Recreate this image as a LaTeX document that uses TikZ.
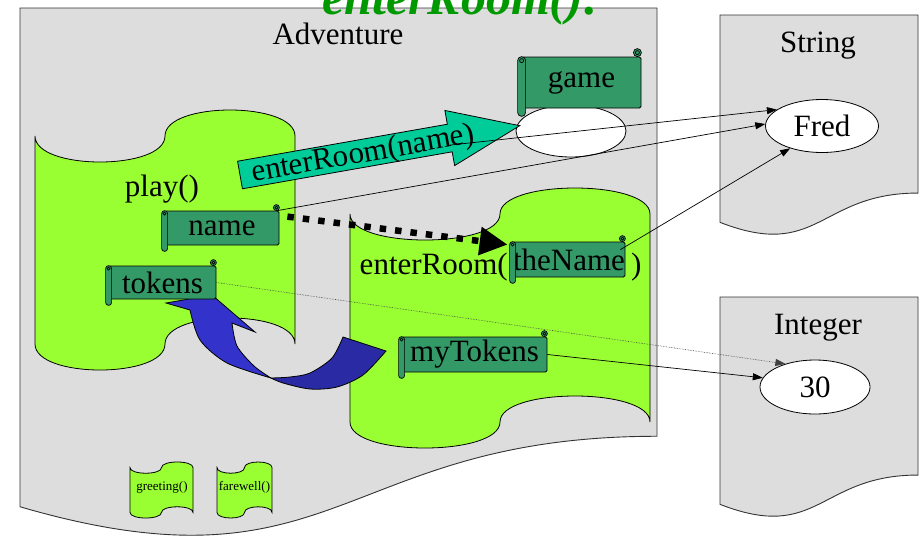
\documentclass[tikz,border=0pt]{standalone}
\usepackage{fontspec}
\setmainfont{Liberation Serif}
\usetikzlibrary{arrows.meta,calc,shapes.geometric}
\definecolor{boxgray}{RGB}{221,221,221}
\definecolor{limegreen}{RGB}{153,255,51}
\definecolor{scrollgreen}{RGB}{51,153,102}
\definecolor{tealarrow}{RGB}{0,204,153}
\definecolor{blueA}{RGB}{51,51,204}
\definecolor{blueB}{RGB}{42,42,165}
\definecolor{titlegreen}{RGB}{0,153,0}
\newcommand\bigf{\fontsize{31}{36}\selectfont}
\newcommand\smallf{\fontsize{13}{15}\selectfont}
% punched-tape shape: x0, y0 (top of crest), width, height
\newcommand\tapeshape[4]{%
  \pgfmathsetmacro\tpA{#1+#3/2}%
  \pgfmathsetmacro\tpB{#1+#3}%
  \pgfmathsetmacro\tpT{#2+#4/10}%
  \pgfmathsetmacro\tpTd{#2+#4/10+4*#4/30}%
  \pgfmathsetmacro\tpTu{#2+#4/10-4*#4/30}%
  \pgfmathsetmacro\tpU{#2+9*#4/10}%
  \pgfmathsetmacro\tpUd{#2+9*#4/10+4*#4/30}%
  \pgfmathsetmacro\tpUu{#2+9*#4/10-4*#4/30}%
  \filldraw[tape] (#1,\tpT) .. controls (#1,\tpTd) and (\tpA,\tpTd) .. (\tpA,\tpT)
     .. controls (\tpA,\tpTu) and (\tpB,\tpTu) .. (\tpB,\tpT) -- (\tpB,\tpU)
     .. controls (\tpB,\tpUu) and (\tpA,\tpUu) .. (\tpA,\tpU)
     .. controls (\tpA,\tpUd) and (#1,\tpUd) .. (#1,\tpU) -- cycle;
}
% document shape: x0, y0, width, height
\newcommand\docshape[4]{%
  \pgfmathsetmacro\dsR{#1+#3}%
  \pgfmathsetmacro\dsM{#1+#3/2}%
  \pgfmathsetmacro\dsA{#2+0.802*#4}%
  \pgfmathsetmacro\dsB{#2+1.1075*#4}%
  \pgfmathsetmacro\dsC{#2+0.934*#4}%
  \filldraw[docbox] (#1,#2) -- (\dsR,#2) -- (\dsR,\dsA)
     .. controls (\dsM,\dsA) and (\dsM,\dsB) .. (#1,\dsC) -- cycle;
}
% scroll decoration on a body node: name, roll width
\newcommand\scrolldeco[2]{%
  \pgfmathsetmacro\scrR{#2/2}%
  \pgfmathsetmacro\scrQ{#2/4}%
  \filldraw[scrollpart, rounded corners=\scrR pt] ($(#1.north west)+(-\scrR,0)$) rectangle ($(#1.south west)+(\scrR,#2)$);
  \draw[scrollpart] ($(#1.north west)+(0,\scrR)$) circle[radius=\scrQ pt];
  \filldraw[scrollpart] ($(#1.north east)+(-\scrR,-\scrR)$) circle[radius=\scrR pt];
  \draw[scrollpart] ($(#1.north east)+(-\scrR,-\scrR)$) circle[radius=\scrQ pt];
}
\tikzset{
  docbox/.style={draw=black!80, fill=boxgray, line width=0.9pt},
  tape/.style={draw=black, fill=limegreen, line width=0.8pt},
  scrollbody/.style={draw=black, fill=scrollgreen, line width=0.8pt, rounded corners=1.5pt,
    inner sep=0pt, font=\bigf},
  scrollpart/.style={draw=black, fill=scrollgreen, line width=0.7pt},
  lbl/.style={font=\bigf, inner sep=0pt},
  obj/.style={ellipse, draw=black, fill=white, line width=0.8pt, inner sep=0pt, font=\bigf},
  conn/.style={draw=black, line width=0.7pt, -{Triangle[length=10pt,width=7pt]}},
  dotconn/.style={draw=black!75, line width=0.6pt, densely dotted, -{Triangle[length=10pt,width=7pt]}},
  thickdash/.style={draw=black, line width=6.5pt, dash pattern=on 6.5pt off 9pt,
    -{Triangle[length=28pt,width=27pt]}},
  bluearrow/.style={draw=black, line width=0.8pt},
}
\begin{document}
\begin{tikzpicture}[x=1pt, y=-1pt]
\useasboundingbox (0,0) rectangle (924,542);
% object boxes
\docshape{20}{8}{637}{534}
\docshape{720}{15}{198}{222}
\docshape{720}{297}{198}{222}
\node[lbl, anchor=base] (advlbl) at (338,44) {Adventure};
\node[lbl, anchor=base] (strlbl) at (818,52) {String};
\node[lbl, anchor=base] (intlbl) at (818,334) {Integer};
% method frames
\tapeshape{35}{110}{260}{260}
\tapeshape{350}{188}{300}{260}
\tapeshape{130}{462}{63}{56}
\tapeshape{217}{462}{55}{56}
\node[font=\smallf, inner sep=0pt] (greet) at (162,487) {greeting()};
\node[font=\smallf, inner sep=0pt] (farew) at (244.5,487) {farewell()};
\node[lbl, anchor=base] (playlbl) at (162,196) {play()};
\node[lbl, anchor=base east] (erlbl) at (508,274) {enterRoom(};
\node[lbl, anchor=base west] (erclose) at (631,274) {)};
% game object reference
\node[obj, minimum width=110pt, minimum height=52pt] (gameobj) at (571,131) {};
\node[scrollbody, minimum width=119pt, minimum height=51pt] (game) at (581.5,82.5) {game};
\scrolldeco{game}{8}
% enterRoom(name) call arrow
\begin{scope}[shift={(240,175)}, rotate=10]
  \filldraw[draw=black, fill=tealarrow, line width=0.8pt]
    (0,-14) -- (213,-14) -- (213,-28) -- (284,0) -- (213,28) -- (213,14) -- (0,14) -- cycle;
  \node[lbl, anchor=base west, rotate=10] (calllbl) at (12,9) {enterRoom(name)};
  \coordinate (argname) at (212,7);
\end{scope}
% blue return arrow
\filldraw[bluearrow, fill=blueA] (166,303) -- (212,295) -- (255,332)
  -- plot[smooth] coordinates {(232,323) (237,346) (254,366) (271,378)}
  -- plot[smooth] coordinates {(271,378) (227,363) (200,340) (190,310)} -- cycle;
\filldraw[bluearrow, fill=blueB]
  plot[smooth] coordinates {(343,337) (332,358) (310,373) (290,377) (271,378)}
  -- plot[smooth] coordinates {(271,378) (283,383) (310,389) (337,387) (363,375) (386,351)} -- cycle;
% variable scrolls
\node[scrollbody, minimum width=114pt, minimum height=34pt] (name) at (222,228) {name};
\scrolldeco{name}{6}
\node[scrollbody, minimum width=107pt, minimum height=33pt] (tokens) at (162.5,282.5) {tokens};
\scrolldeco{tokens}{6}
\node[scrollbody, minimum width=112pt, minimum height=35pt] (theName) at (569,259.5) {theName};
\scrolldeco{theName}{6}
\node[scrollbody, minimum width=145pt, minimum height=35pt] (myTokens) at (474.5,354.5) {myTokens};
\scrolldeco{myTokens}{6}
% objects
\node[obj, minimum width=113pt, minimum height=53pt] (fred) at (822,126) {Fred};
\node[obj, minimum width=110pt, minimum height=54pt] (thirty) at (815,387) {30};
% references
\draw[conn] (argname) -- (fred.160);
\draw[conn] ([xshift=-2pt]name.north east) -- (fred.178);
\draw[conn] ([xshift=-5pt,yshift=-8pt]theName.north east) -- (fred.215);
\draw[dotconn] (tokens.east) -- (thirty.142);
\draw[conn] (myTokens.east) -- (thirty.170);
\draw[thickdash] ([xshift=8pt,yshift=-6pt]name.north east) -- ([xshift=-5pt,yshift=-3pt]theName.north west);
% title
\node[font=\fontsize{50}{60}\selectfont\bfseries\itshape, text=titlegreen, anchor=base, inner sep=0pt] (title) at (461,14) {enterRoom():};
\end{tikzpicture}
\end{document}
